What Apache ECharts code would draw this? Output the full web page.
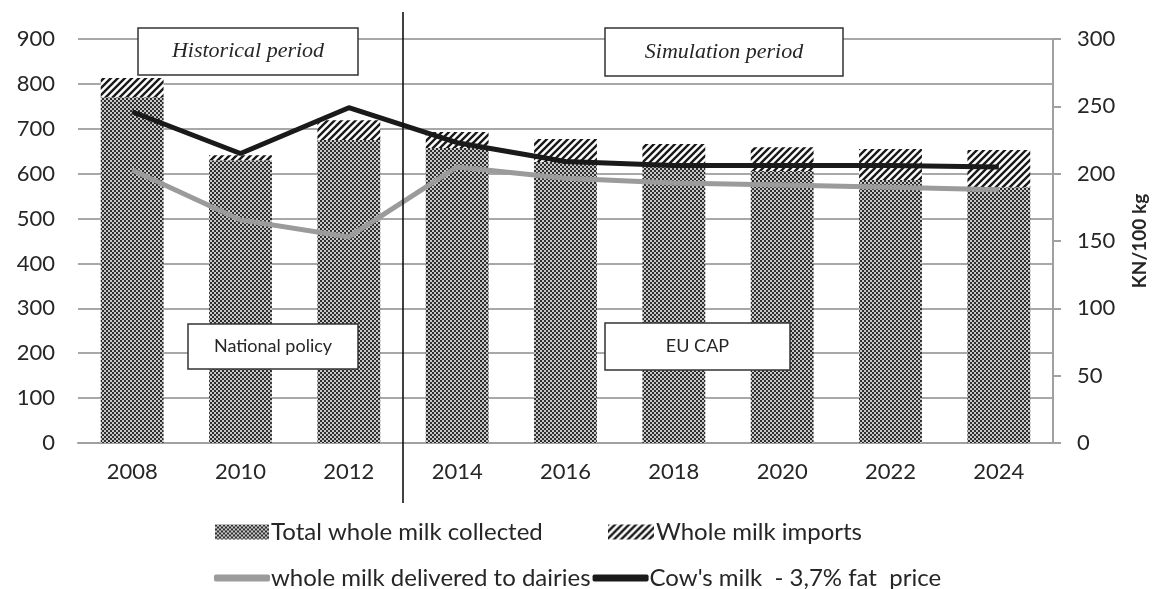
<!DOCTYPE html>
<html><head><meta charset="utf-8">
<script src="https://cdn.jsdelivr.net/npm/echarts@6/dist/echarts.min.js"></script>
<style>html,body{margin:0;padding:0;background:#fff}#c{width:1153px;height:589px}</style>
</head><body><div id="c"></div>
<script>
// ---- data ----
const years = ['2008','2010','2012','2014','2016','2018','2020','2022','2024'];
const collected = [770, 630, 675, 657, 626, 619, 606, 586, 570];
const imports   = [43, 11, 44, 36, 51, 47, 53, 69, 83];
const delivered = [608, 497, 459, 615, 590, 579, 575, 570, 564];
const price     = [246, 215, 249, 223, 209, 206, 206, 206, 205];
const leftTicks = {min: 0, max: 900, interval: 100};
const rightTicks = {min: 0, max: 300, interval: 50};

// ---- patterns ----
function checker() {
  const c = document.createElement('canvas'); c.width = 4; c.height = 4;
  const g = c.getContext('2d');
  g.fillStyle = '#c8c8c8'; g.fillRect(0,0,4,4);
  g.fillStyle = '#2e2e2e'; g.fillRect(0,0,2,2); g.fillRect(2,2,2,2);
  return c;
}
function hatch() {
  const s = 7;
  const c = document.createElement('canvas'); c.width = s; c.height = s;
  const g = c.getContext('2d');
  g.fillStyle = '#fff'; g.fillRect(0,0,s,s);
  g.strokeStyle = '#1a1a1a'; g.lineWidth = 2.4;
  g.beginPath();
  g.moveTo(-1, s+1); g.lineTo(s+1, -1);
  g.moveTo(-1, 1); g.lineTo(1, -1);
  g.moveTo(s-1, s+1); g.lineTo(s+1, s-1);
  g.stroke();
  return c;
}
const checkerPat = {image: checker(), repeat: 'repeat'};
const hatchPat = {image: hatch(), repeat: 'repeat'};

const FONT = 'Lato';
const TXT = '#262626';
const legText = {fontFamily: FONT, fontSize: 24, color: TXT, padding: [0,0,0,-3]};
const chart = echarts.init(document.getElementById('c'), null, {renderer: 'canvas'});
chart.setOption({
  animation: false,
  backgroundColor: '#fff',
  grid: {left: 78, right: 100, top: 39, bottom: 146, containLabel: false, outerBoundsMode: 'none'},
  legend: [
    {data: ['Total whole milk collected'], left: 210, top: 515,
     itemWidth: 54, itemHeight: 15, icon: 'rect', textStyle: legText},
    {data: ['Whole milk imports'], left: 603, top: 515,
     itemWidth: 46, itemHeight: 15, icon: 'rect', textStyle: legText},
    {data: [{name: 'whole milk delivered to dairies', icon: 'roundRect'}, {name: "Cow's milk  - 3,7% fat  price", icon: 'roundRect'}],
     left: 209, top: 561, itemWidth: 56, itemHeight: 7, itemGap: 2,
     textStyle: {fontFamily: FONT, fontSize: 24, color: TXT, padding: [0,0,0,-4]}}
  ],
  xAxis: {
    type: 'category', data: years,
    axisLine: {lineStyle: {color: '#a0a0a0', width: 2}},
    axisTick: {show: false},
    axisLabel: {fontFamily: FONT, fontSize: 22, color: TXT, margin: 18}
  },
  yAxis: [
    {type: 'value', min: leftTicks.min, max: leftTicks.max, interval: leftTicks.interval,
     axisLine: {show: false}, axisTick: {show: false},
     splitLine: {lineStyle: {color: '#a8a8a8', width: 2}},
     axisLabel: {fontFamily: FONT, fontSize: 22, color: TXT, margin: 23}},
    {type: 'value', min: rightTicks.min, max: rightTicks.max, interval: rightTicks.interval,
     position: 'right',
     axisLine: {show: true, lineStyle: {color: '#a0a0a0', width: 2}},
     axisTick: {show: true, length: 8, lineStyle: {color: '#a0a0a0', width: 2}},
     splitLine: {show: false},
     axisLabel: {fontFamily: FONT, fontSize: 22, color: TXT, margin: 24},
     name: 'KN/100 kg', nameLocation: 'middle', nameRotate: 90, nameGap: 77,
     nameTextStyle: {fontFamily: FONT, fontSize: 19, fontWeight: 'bold', color: TXT}}
  ],
  series: [
    {name: 'Total whole milk collected', type: 'bar', stack: 'milk', data: collected,
     barWidth: '58%', itemStyle: {color: checkerPat}, z: 2},
    {name: 'Whole milk imports', type: 'bar', stack: 'milk', data: imports,
     barWidth: '58%', itemStyle: {color: hatchPat}, z: 2},
    {name: 'whole milk delivered to dairies', type: 'line', data: delivered,
     yAxisIndex: 0, symbol: 'none', lineStyle: {color: '#9b9b9b', width: 5},
     itemStyle: {color: '#9b9b9b'}, z: 4},
    {name: "Cow's milk  - 3,7% fat  price", type: 'line', data: price,
     yAxisIndex: 1, symbol: 'none', lineStyle: {color: '#1a1a1a', width: 5},
     itemStyle: {color: '#1a1a1a'}, z: 5}
  ]
});

// decorations: period divider and annotation boxes
const xa = chart.convertToPixel({xAxisIndex: 0}, '2012');
const xb = chart.convertToPixel({xAxisIndex: 0}, '2014');
const divX = (xa + xb) / 2;
function box(x, y, w, h, text, font) {
  return [
    {type: 'rect', z: 100, zlevel: 1, shape: {x: x, y: y, width: w, height: h},
     style: {fill: '#fff', stroke: '#333', lineWidth: 1.5}},
    {type: 'text', z: 101, zlevel: 1, style: {x: x + w/2, y: y + h/2, text: text, align: 'center', verticalAlign: 'middle',
      font: font, fill: TXT}}
  ];
}
chart.setOption({graphic: [
  {type: 'line', z: 90, zlevel: 1, shape: {x1: divX, y1: 12, x2: divX, y2: 503}, style: {stroke: '#111', lineWidth: 1.6}}
].concat(
  box(138, 28, 220, 47, 'Historical period', 'italic 22px "Liberation Serif"'),
  box(605, 28, 238, 48, 'Simulation period', 'italic 22px "Liberation Serif"'),
  box(188, 324, 170, 45, 'National policy', '18px Lato'),
  box(605, 323, 185, 47, 'EU CAP', '18px Lato')
)});
</script>
</body></html>
